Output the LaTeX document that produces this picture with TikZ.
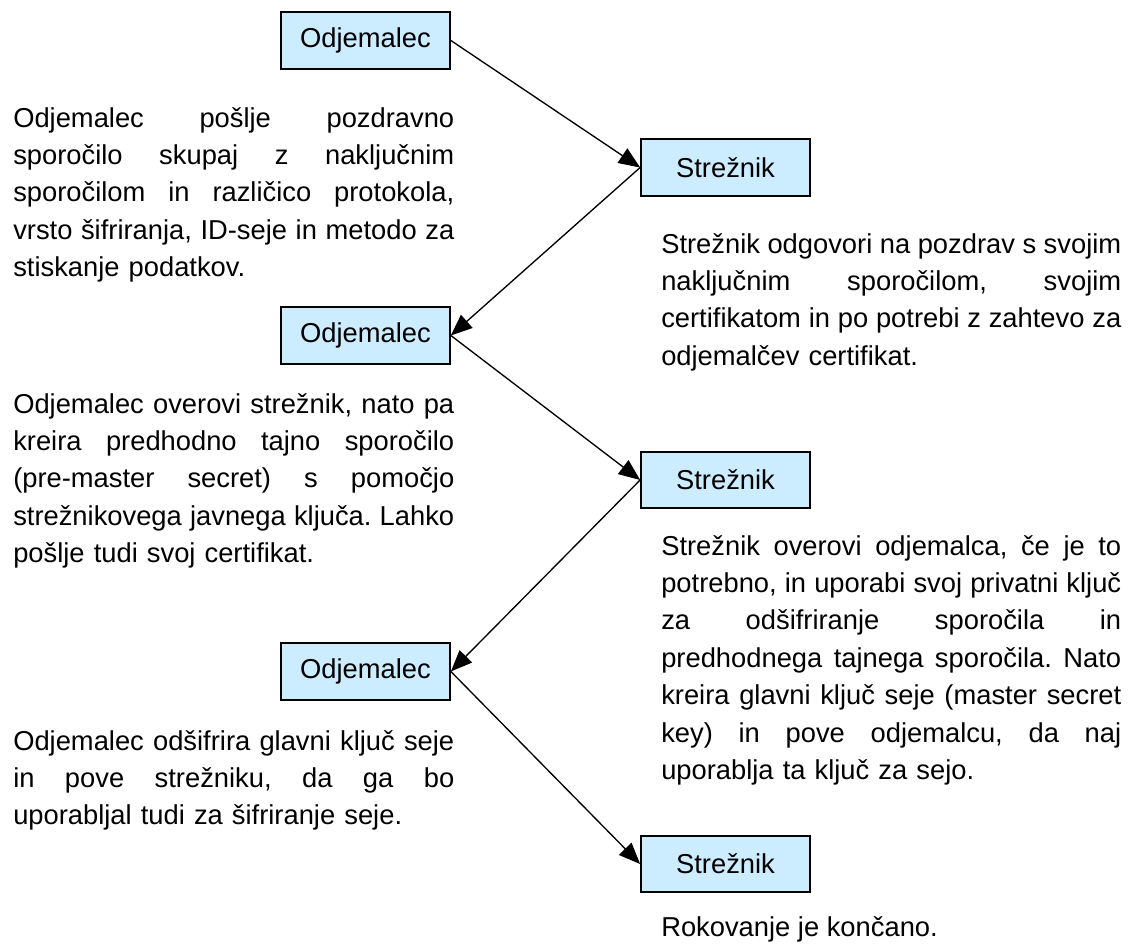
\documentclass[tikz,border=0pt]{standalone}
\usepackage{fontspec}
\setmainfont{Liberation Sans}
\usetikzlibrary{arrows.meta}
\definecolor{boxblue}{RGB}{204,236,255}
\frenchspacing
% one justified line of a description paragraph
\newcommand\jl[1]{\makebox[\linewidth][s]{\spaceskip=0pt\xspaceskip=0pt\relax #1}\\}

\begin{document}
\begin{tikzpicture}[x=0.75pt,y=-0.75pt,
  party/.style={draw=black, line width=1.3pt, fill=boxblue,
    minimum width=126.75pt, minimum height=42.4pt, inner sep=0pt,
    font=\fontsize{20.5}{24}\selectfont},
  desc/.style={anchor=base west, inner sep=0pt, text width=#1, align=left,
    font=\fontsize{20.5}{28.1}\selectfont},
  desc/.default=345pt,
  flow/.style={line width=1pt, -{Triangle[length=16pt,width=13pt]}}]

\fill[white] (0,0) rectangle (1129,946);
\useasboundingbox (0,0) rectangle (1129,946);

% participants
\node[party] (c1) at (365.5,40.5) {Odjemalec};
\node[party] (s1) at (725.5,167.5) {Strežnik};
\node[party] (c2) at (365.5,335.5) {Odjemalec};
\node[party] (s2) at (725.5,480) {Strežnik};
\node[party] (c3) at (365.5,671.5) {Odjemalec};
\node[party] (s3) at (725.5,864) {Strežnik};

% message flow
\draw[flow] (c1.east) -- (s1.west);
\draw[flow] (s1.west) -- (c2.east);
\draw[flow] (c2.east) -- (s2.west);
\draw[flow] (s2.west) -- (c3.east);
\draw[flow] (c3.east) -- (s3.west);

% step descriptions
\node[desc=330.75pt] (t1) at (13,127) {%
\jl{Odjemalec pošlje pozdravno}
\jl{sporočilo skupaj z naključnim}
\jl{sporočilom in različico protokola,}
\jl{vrsto šifriranja, ID-seje in metodo za}
stiskanje podatkov.};

\node[desc] (t2) at (661,253) {%
\jl{Strežnik odgovori na pozdrav s svojim}
\jl{naključnim sporočilom, svojim}
\jl{certifikatom in po potrebi z zahtevo za}
odjemalčev certifikat.};

\node[desc=330.75pt] (t3) at (13,413) {%
\jl{Odjemalec overovi strežnik, nato pa}
\jl{kreira predhodno tajno sporočilo}
\jl{(pre-master secret) s pomočjo}
\jl{strežnikovega javnega ključa. Lahko}
pošlje tudi svoj certifikat.};

\node[desc] (t4) at (661,555) {%
\jl{Strežnik overovi odjemalca, če je to}
\jl{potrebno, in uporabi svoj privatni ključ}
\jl{za odšifriranje sporočila in}
\jl{predhodnega tajnega sporočila. Nato}
\jl{kreira glavni ključ seje (master secret}
\jl{key) in pove odjemalcu, da naj}
uporablja ta ključ za sejo.};

\node[desc=330.75pt] (t5) at (13,750) {%
\jl{Odjemalec odšifrira glavni ključ seje}
\jl{in pove strežniku, da ga bo}
uporabljal tudi za šifriranje seje.};

\node[anchor=base west, inner sep=0pt, font=\fontsize{20.5}{28.1}\selectfont]
  (t6) at (661,936) {Rokovanje je končano.};
\end{tikzpicture}
\end{document}
